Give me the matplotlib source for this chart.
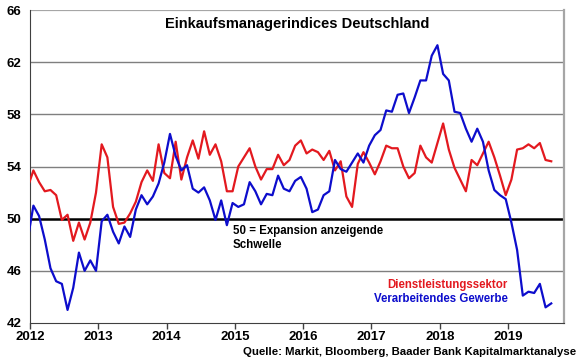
"""
Einkaufsmanagerindizes Deutschland: Dienstleistungen vs. Verarbeitendes Gewerbe.
"""

import numpy as np
import pandas as pd
import matplotlib
matplotlib.use("Agg")
import matplotlib.pyplot as plt

plt.rcParams['font.family'] = ['Liberation Sans', 'DejaVu Sans']
plt.rcParams['font.weight'] = 'bold'

# Monatswerte Dez 2011 bis Aug 2019
start_monat = '2011-12'
dienstleistung = [
    52.4,
    53.7, 52.8, 52.1, 52.2, 51.8, 49.9, 50.3, 48.3, 49.7, 48.4, 49.7, 52.0,
    55.7, 54.7, 50.9, 49.6, 49.7, 50.4, 51.3, 52.8, 53.7, 52.9, 55.7, 53.5,
    53.1, 55.9, 53.0, 54.7, 56.0, 54.6, 56.7, 54.9, 55.7, 54.4, 52.1, 52.1,
    54.0, 54.7, 55.4, 54.0, 53.0, 53.8, 53.8, 54.9, 54.1, 54.5, 55.6, 56.0,
    55.0, 55.3, 55.1, 54.5, 55.2, 53.7, 54.4, 51.7, 50.9, 54.2, 55.1, 54.3,
    53.4, 54.4, 55.6, 55.4, 55.4, 54.0, 53.1, 53.5, 55.6, 54.7, 54.3, 55.8,
    57.3, 55.3, 53.9, 53.0, 52.1, 54.5, 54.1, 55.0, 55.9, 54.7, 53.3, 51.8,
    53.0, 55.3, 55.4, 55.7, 55.4, 55.8, 54.5, 54.4,
]
verarbeitung = [
    48.4,
    51.0, 50.2, 48.4, 46.2, 45.2, 45.0, 43.0, 44.7, 47.4, 46.0, 46.8, 46.0,
    49.8, 50.3, 49.0, 48.1, 49.4, 48.6, 50.7, 51.8, 51.1, 51.7, 52.7, 54.3,
    56.5, 54.8, 53.7, 54.1, 52.3, 52.0, 52.4, 51.4, 49.9, 51.4, 49.5, 51.2,
    50.9, 51.1, 52.8, 52.1, 51.1, 51.9, 51.8, 53.3, 52.3, 52.1, 52.9, 53.2,
    52.3, 50.5, 50.7, 51.8, 52.1, 54.5, 53.8, 53.6, 54.3, 55.0, 54.3, 55.6,
    56.4, 56.8, 58.3, 58.2, 59.5, 59.6, 58.1, 59.3, 60.6, 60.6, 62.5, 63.3,
    61.1, 60.6, 58.2, 58.1, 56.9, 55.9, 56.9, 55.9, 53.7, 52.2, 51.8, 51.5,
    49.7, 47.6, 44.1, 44.4, 44.3, 45.0, 43.2, 43.5,
]
jahre = list(range(2012, 2020))
y_ticks = [42, 46, 50, 54, 58, 62, 66]

monate = pd.period_range(start_monat, periods=len(dienstleistung), freq='M')
x = monate.year + (monate.month - 1) / 12 + 0.05

rot = '#e3191f'
blau = '#0d0dcc'

fig = plt.figure(figsize=(5.8, 3.59), dpi=100)
ax = fig.add_axes([0.0517, 0.1003, 0.9207, 0.8718])

for y in [46, 54, 58, 62]:
    ax.axhline(y, color='#7f7f7f', lw=1.0, zorder=1)
ax.axhline(66, color='#a6a6a6', lw=1.6, zorder=1)
ax.axhline(50, color='black', lw=1.8, zorder=2)

ax.plot(x, dienstleistung, color=rot, lw=1.6, zorder=3)
ax.plot(x, verarbeitung, color=blau, lw=1.6, zorder=4)

ax.set_xlim(2012, 2019.82)
ax.set_ylim(42, 66)
ax.set_xticks(jahre)
ax.set_xticklabels([str(j) for j in jahre])
ax.set_yticks(y_ticks)
ax.tick_params(axis='x', direction='out', length=4, width=1, color='#404040',
               labelsize=9.5, pad=2)
ax.tick_params(axis='y', length=0, labelsize=9.5, pad=6)
for lbl in ax.get_xticklabels() + ax.get_yticklabels():
    lbl.set_fontweight('bold')

ax.spines['left'].set_color('#404040')
ax.spines['bottom'].set_color('#404040')
ax.spines['top'].set_visible(False)
ax.spines['right'].set_color('#a6a6a6')
ax.spines['right'].set_linewidth(1.6)

ax.text(0.5, 0.955, 'Einkaufsmanagerindices Deutschland', transform=ax.transAxes,
        ha='center', va='center', fontsize=10.5, fontweight='bold')
ax.text(2014.97, 49.5, '50 = Expansion anzeigende\nSchwelle', ha='left', va='top',
        fontsize=8.3, fontweight='bold', linespacing=1.15)
ax.text(2019.0, 44.9, 'Dienstleistungssektor', ha='right', va='center',
        fontsize=8.3, fontweight='bold', color=rot)
ax.text(2019.0, 43.85, 'Verarbeitendes Gewerbe', ha='right', va='center',
        fontsize=8.3, fontweight='bold', color=blau)

fig.text(0.993, 0.02, 'Quelle: Markit, Bloomberg, Baader Bank Kapitalmarktanalyse',
         ha='right', va='center', fontsize=8.2, fontweight='bold')

fig.savefig('out.png', dpi=100)
plt.close(fig)
